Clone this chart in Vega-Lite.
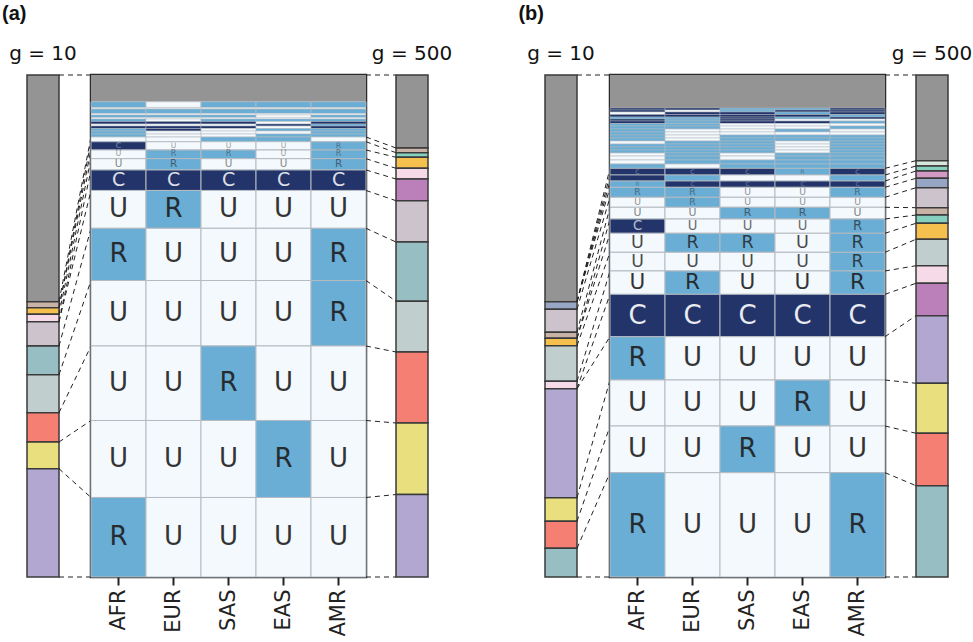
{
  "$schema": "https://vega.github.io/schema/vega-lite/v6.json",
  "background": "white",
  "padding": {"left": 0, "top": 4, "right": 0, "bottom": 0},
  "config": {
    "view": {"stroke": null},
    "font": "DejaVu Sans",
    "title": {"font": "DejaVu Sans", "fontWeight": "normal", "fontSize": 20, "color": "#111111", "baseline": "alphabetic", "offset": 10}
  },
  "bounds": "flush",
  "spacing": 0,
  "resolve": {
    "scale": {"x": "independent", "y": "independent", "fill": "independent", "color": "independent", "size": "independent", "opacity": "independent", "strokeWidth": "independent"},
    "axis": {"x": "independent", "y": "independent"}
  },
  "datasets": {
    "barA10": [
      {"k": "other", "y0": 0, "y1": 45.16}, {"k": "tan", "y0": 45.16, "y1": 46.35}, {"k": "orange", "y0": 46.35, "y1": 47.67},
      {"k": "pink", "y0": 47.67, "y1": 49.14}, {"k": "mauve", "y0": 49.14, "y1": 53.98}, {"k": "teal", "y0": 53.98, "y1": 59.70},
      {"k": "lgg", "y0": 59.70, "y1": 67.27}, {"k": "salmon", "y0": 67.27, "y1": 73.11}, {"k": "yellow", "y0": 73.11, "y1": 78.43},
      {"k": "purple", "y0": 78.43, "y1": 100}
    ],
    "barA500": [
      {"k": "other", "y0": 0, "y1": 14.54}, {"k": "tan", "y0": 14.54, "y1": 15.48}, {"k": "mint", "y0": 15.48, "y1": 16.39},
      {"k": "orange", "y0": 16.39, "y1": 18.59}, {"k": "pink", "y0": 18.59, "y1": 20.72}, {"k": "magenta", "y0": 20.72, "y1": 25.04},
      {"k": "mauve", "y0": 25.04, "y1": 33.27}, {"k": "teal", "y0": 33.27, "y1": 45.06}, {"k": "lgg", "y0": 45.06, "y1": 55.18},
      {"k": "salmon", "y0": 55.18, "y1": 69.32}, {"k": "yellow", "y0": 69.32, "y1": 83.57}, {"k": "purple", "y0": 83.57, "y1": 100}
    ],
    "barB10": [
      {"k": "other", "y0": 0, "y1": 45.16}, {"k": "bluegray", "y0": 45.16, "y1": 46.67}, {"k": "mauve", "y0": 46.67, "y1": 51.25},
      {"k": "tan", "y0": 51.25, "y1": 52.45}, {"k": "orange", "y0": 52.45, "y1": 53.92}, {"k": "lgg", "y0": 53.92, "y1": 61.02},
      {"k": "pink", "y0": 61.02, "y1": 62.49}, {"k": "purple", "y0": 62.49, "y1": 84.20}, {"k": "yellow", "y0": 84.20, "y1": 88.90},
      {"k": "salmon", "y0": 88.90, "y1": 94.28}, {"k": "teal", "y0": 94.28, "y1": 100}
    ],
    "barB500": [
      {"k": "other", "y0": 0, "y1": 17.07}, {"k": "lmint", "y0": 17.07, "y1": 18.13}, {"k": "mint", "y0": 18.13, "y1": 19.12},
      {"k": "pinkmag", "y0": 19.12, "y1": 20.58}, {"k": "bluegray", "y0": 20.58, "y1": 22.45}, {"k": "mauve", "y0": 22.45, "y1": 26.43},
      {"k": "tan", "y0": 26.43, "y1": 27.89}, {"k": "mint2", "y0": 27.89, "y1": 29.54}, {"k": "orange", "y0": 29.54, "y1": 32.73},
      {"k": "lgg", "y0": 32.73, "y1": 37.99}, {"k": "pink", "y0": 37.99, "y1": 41.49}, {"k": "magenta", "y0": 41.49, "y1": 47.95},
      {"k": "purple", "y0": 47.95, "y1": 61.41}, {"k": "yellow", "y0": 61.41, "y1": 71.37}, {"k": "salmon", "y0": 71.37, "y1": 81.81},
      {"k": "teal", "y0": 81.81, "y1": 100}
    ],
    "connAL": [
      {"a": 0, "b": 0}, {"a": 45.16, "b": 12.35}, {"a": 46.35, "b": 13.29}, {"a": 46.35, "b": 14.94}, {"a": 47.67, "b": 16.67},
      {"a": 49.14, "b": 18.92}, {"a": 49.14, "b": 23.0}, {"a": 53.98, "b": 30.54}, {"a": 59.70, "b": 40.94}, {"a": 67.27, "b": 53.98},
      {"a": 73.11, "b": 68.82}, {"a": 78.43, "b": 84.16}, {"a": 100, "b": 100}
    ],
    "connAR": [
      {"a": 0, "b": 0}, {"a": 12.35, "b": 14.54}, {"a": 13.29, "b": 15.48}, {"a": 14.94, "b": 16.39}, {"a": 16.67, "b": 18.59},
      {"a": 18.92, "b": 20.72}, {"a": 23.0, "b": 25.04}, {"a": 30.54, "b": 33.27}, {"a": 40.94, "b": 45.06}, {"a": 53.98, "b": 55.18},
      {"a": 68.82, "b": 69.32}, {"a": 84.16, "b": 83.57}, {"a": 100, "b": 100}
    ],
    "connBL": [
      {"a": 0, "b": 0}, {"a": 45.16, "b": 18.59}, {"a": 45.16, "b": 19.92}, {"a": 45.16, "b": 21.12}, {"a": 45.16, "b": 22.37},
      {"a": 46.67, "b": 24.36}, {"a": 51.25, "b": 26.35}, {"a": 52.45, "b": 28.69}, {"a": 52.45, "b": 31.53}, {"a": 53.92, "b": 35.32},
      {"a": 61.02, "b": 39.04}, {"a": 62.49, "b": 43.69}, {"a": 62.49, "b": 52.13}, {"a": 84.20, "b": 60.76}, {"a": 88.90, "b": 69.92},
      {"a": 94.28, "b": 79.22}, {"a": 100, "b": 100}
    ],
    "connBR": [
      {"a": 0, "b": 0}, {"a": 18.59, "b": 17.07}, {"a": 19.92, "b": 18.13}, {"a": 21.12, "b": 19.12}, {"a": 22.37, "b": 20.58},
      {"a": 24.36, "b": 22.45}, {"a": 26.35, "b": 26.43}, {"a": 28.69, "b": 27.89}, {"a": 31.53, "b": 29.54}, {"a": 35.32, "b": 32.73},
      {"a": 39.04, "b": 37.99}, {"a": 43.69, "b": 41.49}, {"a": 52.13, "b": 47.95}, {"a": 60.76, "b": 61.41}, {"a": 69.92, "b": 71.37},
      {"a": 79.22, "b": 81.81}, {"a": 100, "b": 100}
    ],
    "gridA": [
      {"y0": 0, "y1": 5.32, "AFR": "O", "EUR": "O", "SAS": "O", "EAS": "O", "AMR": "O"},
      {"y0": 5.32, "y1": 6.47, "AFR": "R", "EUR": "U", "SAS": "R", "EAS": "R", "AMR": "R"},
      {"y0": 6.47, "y1": 6.77, "AFR": "U", "EUR": "U", "SAS": "U", "EAS": "U", "AMR": "U"},
      {"y0": 6.77, "y1": 7.67, "AFR": "R", "EUR": "R", "SAS": "R", "EAS": "R", "AMR": "R"},
      {"y0": 7.67, "y1": 7.97, "AFR": "U", "EUR": "U", "SAS": "U", "EAS": "U", "AMR": "U"},
      {"y0": 7.97, "y1": 8.47, "AFR": "R", "EUR": "R", "SAS": "R", "EAS": "U", "AMR": "R"},
      {"y0": 8.47, "y1": 8.76, "AFR": "U", "EUR": "U", "SAS": "U", "EAS": "U", "AMR": "U"},
      {"y0": 8.76, "y1": 9.26, "AFR": "R", "EUR": "U", "SAS": "R", "EAS": "R", "AMR": "R"},
      {"y0": 9.26, "y1": 9.76, "AFR": "C", "EUR": "C", "SAS": "C", "EAS": "U", "AMR": "C"},
      {"y0": 9.76, "y1": 10.16, "AFR": "U", "EUR": "U", "SAS": "U", "EAS": "C", "AMR": "R"},
      {"y0": 10.16, "y1": 10.66, "AFR": "C", "EUR": "C", "SAS": "C", "EAS": "U", "AMR": "C"},
      {"y0": 10.66, "y1": 11.16, "AFR": "R", "EUR": "C", "SAS": "U", "EAS": "R", "AMR": "R"},
      {"y0": 11.16, "y1": 11.75, "AFR": "R", "EUR": "U", "SAS": "U", "EAS": "U", "AMR": "R"},
      {"y0": 11.75, "y1": 12.35, "AFR": "R", "EUR": "U", "SAS": "U", "EAS": "R", "AMR": "R"},
      {"y0": 12.35, "y1": 13.29, "AFR": "U", "EUR": "U", "SAS": "R", "EAS": "R", "AMR": "U"},
      {"y0": 13.29, "y1": 14.94, "AFR": "C", "EUR": "U", "SAS": "U", "EAS": "U", "AMR": "R"},
      {"y0": 14.94, "y1": 16.67, "AFR": "U", "EUR": "R", "SAS": "R", "EAS": "U", "AMR": "R"},
      {"y0": 16.67, "y1": 18.92, "AFR": "U", "EUR": "R", "SAS": "U", "EAS": "U", "AMR": "R"},
      {"y0": 18.92, "y1": 23.0, "AFR": "C", "EUR": "C", "SAS": "C", "EAS": "C", "AMR": "C"},
      {"y0": 23.0, "y1": 30.54, "AFR": "U", "EUR": "R", "SAS": "U", "EAS": "U", "AMR": "U"},
      {"y0": 30.54, "y1": 40.94, "AFR": "R", "EUR": "U", "SAS": "U", "EAS": "U", "AMR": "R"},
      {"y0": 40.94, "y1": 53.98, "AFR": "U", "EUR": "U", "SAS": "U", "EAS": "U", "AMR": "R"},
      {"y0": 53.98, "y1": 68.82, "AFR": "U", "EUR": "U", "SAS": "R", "EAS": "U", "AMR": "U"},
      {"y0": 68.82, "y1": 84.16, "AFR": "U", "EUR": "U", "SAS": "U", "EAS": "R", "AMR": "U"},
      {"y0": 84.16, "y1": 100, "AFR": "R", "EUR": "U", "SAS": "U", "EAS": "U", "AMR": "U"}
    ],
    "gridB": [
      {"y0": 0, "y1": 6.57, "AFR": "O", "EUR": "O", "SAS": "O", "EAS": "O", "AMR": "O"},
      {"y0": 6.57, "y1": 6.97, "AFR": "C", "EUR": "C", "SAS": "R", "EAS": "R", "AMR": "C"},
      {"y0": 6.97, "y1": 7.37, "AFR": "C", "EUR": "U", "SAS": "R", "EAS": "C", "AMR": "C"},
      {"y0": 7.37, "y1": 7.87, "AFR": "U", "EUR": "C", "SAS": "C", "EAS": "R", "AMR": "C"},
      {"y0": 7.87, "y1": 8.37, "AFR": "C", "EUR": "C", "SAS": "C", "EAS": "C", "AMR": "R"},
      {"y0": 8.37, "y1": 8.76, "AFR": "R", "EUR": "R", "SAS": "C", "EAS": "R", "AMR": "C"},
      {"y0": 8.76, "y1": 9.16, "AFR": "C", "EUR": "R", "SAS": "C", "EAS": "U", "AMR": "U"},
      {"y0": 9.16, "y1": 9.66, "AFR": "C", "EUR": "R", "SAS": "C", "EAS": "C", "AMR": "R"},
      {"y0": 9.66, "y1": 10.16, "AFR": "R", "EUR": "R", "SAS": "U", "EAS": "U", "AMR": "U"},
      {"y0": 10.16, "y1": 10.76, "AFR": "R", "EUR": "R", "SAS": "U", "EAS": "U", "AMR": "R"},
      {"y0": 10.76, "y1": 11.35, "AFR": "R", "EUR": "U", "SAS": "U", "EAS": "R", "AMR": "U"},
      {"y0": 11.35, "y1": 11.95, "AFR": "R", "EUR": "U", "SAS": "U", "EAS": "U", "AMR": "U"},
      {"y0": 11.95, "y1": 12.55, "AFR": "R", "EUR": "U", "SAS": "R", "EAS": "R", "AMR": "R"},
      {"y0": 12.55, "y1": 13.15, "AFR": "R", "EUR": "U", "SAS": "R", "EAS": "R", "AMR": "R"},
      {"y0": 13.15, "y1": 13.75, "AFR": "U", "EUR": "R", "SAS": "R", "EAS": "U", "AMR": "R"},
      {"y0": 13.75, "y1": 14.34, "AFR": "R", "EUR": "R", "SAS": "R", "EAS": "U", "AMR": "R"},
      {"y0": 14.34, "y1": 14.94, "AFR": "R", "EUR": "R", "SAS": "R", "EAS": "U", "AMR": "R"},
      {"y0": 14.94, "y1": 15.54, "AFR": "R", "EUR": "R", "SAS": "R", "EAS": "U", "AMR": "R"},
      {"y0": 15.54, "y1": 16.14, "AFR": "U", "EUR": "R", "SAS": "U", "EAS": "R", "AMR": "R"},
      {"y0": 16.14, "y1": 16.93, "AFR": "U", "EUR": "R", "SAS": "U", "EAS": "R", "AMR": "R"},
      {"y0": 16.93, "y1": 17.73, "AFR": "U", "EUR": "R", "SAS": "R", "EAS": "R", "AMR": "R"},
      {"y0": 17.73, "y1": 18.59, "AFR": "R", "EUR": "U", "SAS": "R", "EAS": "R", "AMR": "R"},
      {"y0": 18.59, "y1": 19.92, "AFR": "C", "EUR": "C", "SAS": "C", "EAS": "R", "AMR": "C"},
      {"y0": 19.92, "y1": 21.12, "AFR": "C", "EUR": "R", "SAS": "U", "EAS": "U", "AMR": "R"},
      {"y0": 21.12, "y1": 22.37, "AFR": "R", "EUR": "C", "SAS": "C", "EAS": "C", "AMR": "C"},
      {"y0": 22.37, "y1": 24.36, "AFR": "R", "EUR": "R", "SAS": "U", "EAS": "U", "AMR": "R"},
      {"y0": 24.36, "y1": 26.35, "AFR": "U", "EUR": "R", "SAS": "U", "EAS": "U", "AMR": "U"},
      {"y0": 26.35, "y1": 28.69, "AFR": "U", "EUR": "U", "SAS": "R", "EAS": "R", "AMR": "U"},
      {"y0": 28.69, "y1": 31.53, "AFR": "C", "EUR": "U", "SAS": "U", "EAS": "U", "AMR": "R"},
      {"y0": 31.53, "y1": 35.32, "AFR": "U", "EUR": "R", "SAS": "R", "EAS": "U", "AMR": "R"},
      {"y0": 35.32, "y1": 39.04, "AFR": "U", "EUR": "U", "SAS": "U", "EAS": "U", "AMR": "R"},
      {"y0": 39.04, "y1": 43.69, "AFR": "U", "EUR": "R", "SAS": "U", "EAS": "U", "AMR": "R"},
      {"y0": 43.69, "y1": 52.13, "AFR": "C", "EUR": "C", "SAS": "C", "EAS": "C", "AMR": "C"},
      {"y0": 52.13, "y1": 60.76, "AFR": "R", "EUR": "U", "SAS": "U", "EAS": "U", "AMR": "U"},
      {"y0": 60.76, "y1": 69.92, "AFR": "U", "EUR": "U", "SAS": "U", "EAS": "R", "AMR": "U"},
      {"y0": 69.92, "y1": 79.22, "AFR": "U", "EUR": "U", "SAS": "R", "EAS": "U", "AMR": "U"},
      {"y0": 79.22, "y1": 100, "AFR": "R", "EUR": "U", "SAS": "U", "EAS": "U", "AMR": "R"}
    ]
  },
  "hconcat": [
    {
      "width": 27, "height": 502,
      "title": {"text": "(a)", "anchor": "start", "font": "Liberation Sans", "fontWeight": "bold", "fontSize": 20, "offset": 51, "dx": 2},
      "data": {"values": []},
      "mark": "point",
      "encoding": {}
    },
    {
      "width": 32, "height": 502,
      "title": {"text": "g = 10", "anchor": "middle"},
      "data": {"name": "barA10"},
      "mark": {"type": "rect", "stroke": "#3a3a3a", "strokeWidth": 1.5},
      "encoding": {
        "x": {"datum": 0, "type": "quantitative", "scale": {"domain": [0, 1]}, "axis": null},
        "x2": {"datum": 1},
        "y": {"field": "y0", "type": "quantitative", "scale": {"domain": [0, 100], "reverse": true, "nice": false, "zero": false}, "axis": null},
        "y2": {"field": "y1"},
        "fill": {"field": "k", "type": "nominal", "legend": null,
          "scale": {"domain": ["other","tan","mint","lmint","orange","pink","magenta","mauve","teal","lgg","salmon","yellow","purple","bluegray","pinkmag","mint2"],
                    "range": ["#949494","#c9b3a7","#86d0bf","#d6e7db","#f5c04e","#f6dae7","#bb80b9","#cdc3cc","#97bfc3","#c0cecd","#f57f72","#e9df7f","#b1a7d1","#98a6c5","#d39bc3","#86d0bf"]}}
      }
    },
    {
      "width": 32, "height": 502,
      "data": {"name": "connAL"},
      "mark": {"type": "rule", "strokeDash": [5, 4], "color": "#222222", "strokeWidth": 1},
      "encoding": {
        "x": {"datum": 0, "type": "quantitative", "scale": {"domain": [0, 1]}, "axis": null},
        "x2": {"datum": 1},
        "y": {"field": "a", "type": "quantitative", "scale": {"domain": [0, 100], "reverse": true, "nice": false, "zero": false}, "axis": null},
        "y2": {"field": "b"}
      }
    },
    {
      "width": 275, "height": 502,
      "view": {"stroke": "#2b2b2b", "strokeWidth": 2.5},
      "data": {"name": "gridA"},
      "transform": [
        {"fold": ["AFR", "EUR", "SAS", "EAS", "AMR"], "as": ["pop", "state"]},
        {"calculate": "datum.y1 - datum.y0", "as": "h"},
        {"calculate": "(datum.y0 + datum.y1) / 2", "as": "ym"}
      ],
      "encoding": {
        "x": {"field": "pop", "type": "nominal", "sort": ["AFR", "EUR", "SAS", "EAS", "AMR"], "scale": {"paddingInner": 0, "paddingOuter": 0},
          "axis": {"orient": "bottom", "title": null, "labelAngle": -90, "labelFontSize": 21, "labelColor": "#222222", "labelPadding": 4, "tickSize": 8, "tickWidth": 2, "tickColor": "#222222", "domain": false, "labelFont": "DejaVu Sans"}}
      },
      "layer": [
        {
          "transform": [{"filter": "datum.state === 'O'"}],
          "mark": {"type": "rect", "fill": "#949494"},
          "encoding": {
            "y": {"field": "y0", "type": "quantitative", "scale": {"domain": [0, 100], "reverse": true, "nice": false, "zero": false}, "axis": null},
            "y2": {"field": "y1"}
          }
        },
        {
          "transform": [{"filter": "datum.state !== 'O'"}],
          "mark": {"type": "rect", "stroke": "#b4bbc1"},
          "encoding": {
            "y": {"field": "y0", "type": "quantitative", "scale": {"domain": [0, 100], "reverse": true, "nice": false, "zero": false}, "axis": null},
            "y2": {"field": "y1"},
            "fill": {"field": "state", "type": "nominal", "legend": null, "scale": {"domain": ["U", "R", "C"], "range": ["#f4f9fd", "#6aadd5", "#22346a"]}},
            "strokeWidth": {"field": "h", "type": "quantitative", "legend": null, "scale": {"domain": [0.3, 1.5], "range": [0.4, 1], "clamp": true}}
          }
        },
        {
          "transform": [{"filter": "datum.state !== 'O' && datum.h >= 1.2"}],
          "mark": {"type": "text", "baseline": "middle", "align": "center"},
          "encoding": {
            "y": {"field": "ym", "type": "quantitative", "scale": {"domain": [0, 100], "reverse": true, "nice": false, "zero": false}, "axis": null},
            "text": {"field": "state"},
            "size": {"field": "h", "type": "quantitative", "legend": null, "scale": {"domain": [0, 5.6], "range": [0, 26], "clamp": true}},
            "opacity": {"field": "h", "type": "quantitative", "legend": null, "scale": {"domain": [1, 3, 4.5], "range": [0.3, 0.7, 0.9], "clamp": true}},
            "color": {"condition": {"test": "datum.state === 'C'", "value": "#ffffff"}, "value": "#1e1e1e"}
          }
        }
      ]
    },
    {
      "width": 30, "height": 502,
      "data": {"name": "connAR"},
      "mark": {"type": "rule", "strokeDash": [5, 4], "color": "#222222", "strokeWidth": 1},
      "encoding": {
        "x": {"datum": 0, "type": "quantitative", "scale": {"domain": [0, 1]}, "axis": null},
        "x2": {"datum": 1},
        "y": {"field": "a", "type": "quantitative", "scale": {"domain": [0, 100], "reverse": true, "nice": false, "zero": false}, "axis": null},
        "y2": {"field": "b"}
      }
    },
    {
      "width": 32, "height": 502,
      "title": {"text": "g = 500", "anchor": "middle"},
      "data": {"name": "barA500"},
      "mark": {"type": "rect", "stroke": "#3a3a3a", "strokeWidth": 1.5},
      "encoding": {
        "x": {"datum": 0, "type": "quantitative", "scale": {"domain": [0, 1]}, "axis": null},
        "x2": {"datum": 1},
        "y": {"field": "y0", "type": "quantitative", "scale": {"domain": [0, 100], "reverse": true, "nice": false, "zero": false}, "axis": null},
        "y2": {"field": "y1"},
        "fill": {"field": "k", "type": "nominal", "legend": null,
          "scale": {"domain": ["other","tan","mint","lmint","orange","pink","magenta","mauve","teal","lgg","salmon","yellow","purple","bluegray","pinkmag","mint2"],
                    "range": ["#949494","#c9b3a7","#86d0bf","#d6e7db","#f5c04e","#f6dae7","#bb80b9","#cdc3cc","#97bfc3","#c0cecd","#f57f72","#e9df7f","#b1a7d1","#98a6c5","#d39bc3","#86d0bf"]}}
      }
    },
    {
      "width": 117, "height": 502,
      "title": {"text": "(b)", "anchor": "end", "font": "Liberation Sans", "fontWeight": "bold", "fontSize": 20, "offset": 51, "dx": -1},
      "data": {"values": []},
      "mark": "point",
      "encoding": {}
    },
    {
      "width": 32, "height": 502,
      "title": {"text": "g = 10", "anchor": "middle"},
      "data": {"name": "barB10"},
      "mark": {"type": "rect", "stroke": "#3a3a3a", "strokeWidth": 1.5},
      "encoding": {
        "x": {"datum": 0, "type": "quantitative", "scale": {"domain": [0, 1]}, "axis": null},
        "x2": {"datum": 1},
        "y": {"field": "y0", "type": "quantitative", "scale": {"domain": [0, 100], "reverse": true, "nice": false, "zero": false}, "axis": null},
        "y2": {"field": "y1"},
        "fill": {"field": "k", "type": "nominal", "legend": null,
          "scale": {"domain": ["other","tan","mint","lmint","orange","pink","magenta","mauve","teal","lgg","salmon","yellow","purple","bluegray","pinkmag","mint2"],
                    "range": ["#949494","#c9b3a7","#86d0bf","#d6e7db","#f5c04e","#f6dae7","#bb80b9","#cdc3cc","#97bfc3","#c0cecd","#f57f72","#e9df7f","#b1a7d1","#98a6c5","#d39bc3","#86d0bf"]}}
      }
    },
    {
      "width": 33, "height": 502,
      "data": {"name": "connBL"},
      "mark": {"type": "rule", "strokeDash": [5, 4], "color": "#222222", "strokeWidth": 1},
      "encoding": {
        "x": {"datum": 0, "type": "quantitative", "scale": {"domain": [0, 1]}, "axis": null},
        "x2": {"datum": 1},
        "y": {"field": "a", "type": "quantitative", "scale": {"domain": [0, 100], "reverse": true, "nice": false, "zero": false}, "axis": null},
        "y2": {"field": "b"}
      }
    },
    {
      "width": 275, "height": 502,
      "view": {"stroke": "#2b2b2b", "strokeWidth": 2.5},
      "data": {"name": "gridB"},
      "transform": [
        {"fold": ["AFR", "EUR", "SAS", "EAS", "AMR"], "as": ["pop", "state"]},
        {"calculate": "datum.y1 - datum.y0", "as": "h"},
        {"calculate": "(datum.y0 + datum.y1) / 2", "as": "ym"}
      ],
      "encoding": {
        "x": {"field": "pop", "type": "nominal", "sort": ["AFR", "EUR", "SAS", "EAS", "AMR"], "scale": {"paddingInner": 0, "paddingOuter": 0},
          "axis": {"orient": "bottom", "title": null, "labelAngle": -90, "labelFontSize": 21, "labelColor": "#222222", "labelPadding": 4, "tickSize": 8, "tickWidth": 2, "tickColor": "#222222", "domain": false, "labelFont": "DejaVu Sans"}}
      },
      "layer": [
        {
          "transform": [{"filter": "datum.state === 'O'"}],
          "mark": {"type": "rect", "fill": "#949494"},
          "encoding": {
            "y": {"field": "y0", "type": "quantitative", "scale": {"domain": [0, 100], "reverse": true, "nice": false, "zero": false}, "axis": null},
            "y2": {"field": "y1"}
          }
        },
        {
          "transform": [{"filter": "datum.state !== 'O'"}],
          "mark": {"type": "rect", "stroke": "#b4bbc1"},
          "encoding": {
            "y": {"field": "y0", "type": "quantitative", "scale": {"domain": [0, 100], "reverse": true, "nice": false, "zero": false}, "axis": null},
            "y2": {"field": "y1"},
            "fill": {"field": "state", "type": "nominal", "legend": null, "scale": {"domain": ["U", "R", "C"], "range": ["#f4f9fd", "#6aadd5", "#22346a"]}},
            "strokeWidth": {"field": "h", "type": "quantitative", "legend": null, "scale": {"domain": [0.3, 1.5], "range": [0.4, 1], "clamp": true}}
          }
        },
        {
          "transform": [{"filter": "datum.state !== 'O' && datum.h >= 1.2"}],
          "mark": {"type": "text", "baseline": "middle", "align": "center"},
          "encoding": {
            "y": {"field": "ym", "type": "quantitative", "scale": {"domain": [0, 100], "reverse": true, "nice": false, "zero": false}, "axis": null},
            "text": {"field": "state"},
            "size": {"field": "h", "type": "quantitative", "legend": null, "scale": {"domain": [0, 5.6], "range": [0, 26], "clamp": true}},
            "opacity": {"field": "h", "type": "quantitative", "legend": null, "scale": {"domain": [1, 3, 4.5], "range": [0.3, 0.7, 0.9], "clamp": true}},
            "color": {"condition": {"test": "datum.state === 'C'", "value": "#ffffff"}, "value": "#1e1e1e"}
          }
        }
      ]
    },
    {
      "width": 31, "height": 502,
      "data": {"name": "connBR"},
      "mark": {"type": "rule", "strokeDash": [5, 4], "color": "#222222", "strokeWidth": 1},
      "encoding": {
        "x": {"datum": 0, "type": "quantitative", "scale": {"domain": [0, 1]}, "axis": null},
        "x2": {"datum": 1},
        "y": {"field": "a", "type": "quantitative", "scale": {"domain": [0, 100], "reverse": true, "nice": false, "zero": false}, "axis": null},
        "y2": {"field": "b"}
      }
    },
    {
      "width": 32, "height": 502,
      "title": {"text": "g = 500", "anchor": "middle"},
      "data": {"name": "barB500"},
      "mark": {"type": "rect", "stroke": "#3a3a3a", "strokeWidth": 1.5},
      "encoding": {
        "x": {"datum": 0, "type": "quantitative", "scale": {"domain": [0, 1]}, "axis": null},
        "x2": {"datum": 1},
        "y": {"field": "y0", "type": "quantitative", "scale": {"domain": [0, 100], "reverse": true, "nice": false, "zero": false}, "axis": null},
        "y2": {"field": "y1"},
        "fill": {"field": "k", "type": "nominal", "legend": null,
          "scale": {"domain": ["other","tan","mint","lmint","orange","pink","magenta","mauve","teal","lgg","salmon","yellow","purple","bluegray","pinkmag","mint2"],
                    "range": ["#949494","#c9b3a7","#86d0bf","#d6e7db","#f5c04e","#f6dae7","#bb80b9","#cdc3cc","#97bfc3","#c0cecd","#f57f72","#e9df7f","#b1a7d1","#98a6c5","#d39bc3","#86d0bf"]}}
      }
    }
  ]
}
